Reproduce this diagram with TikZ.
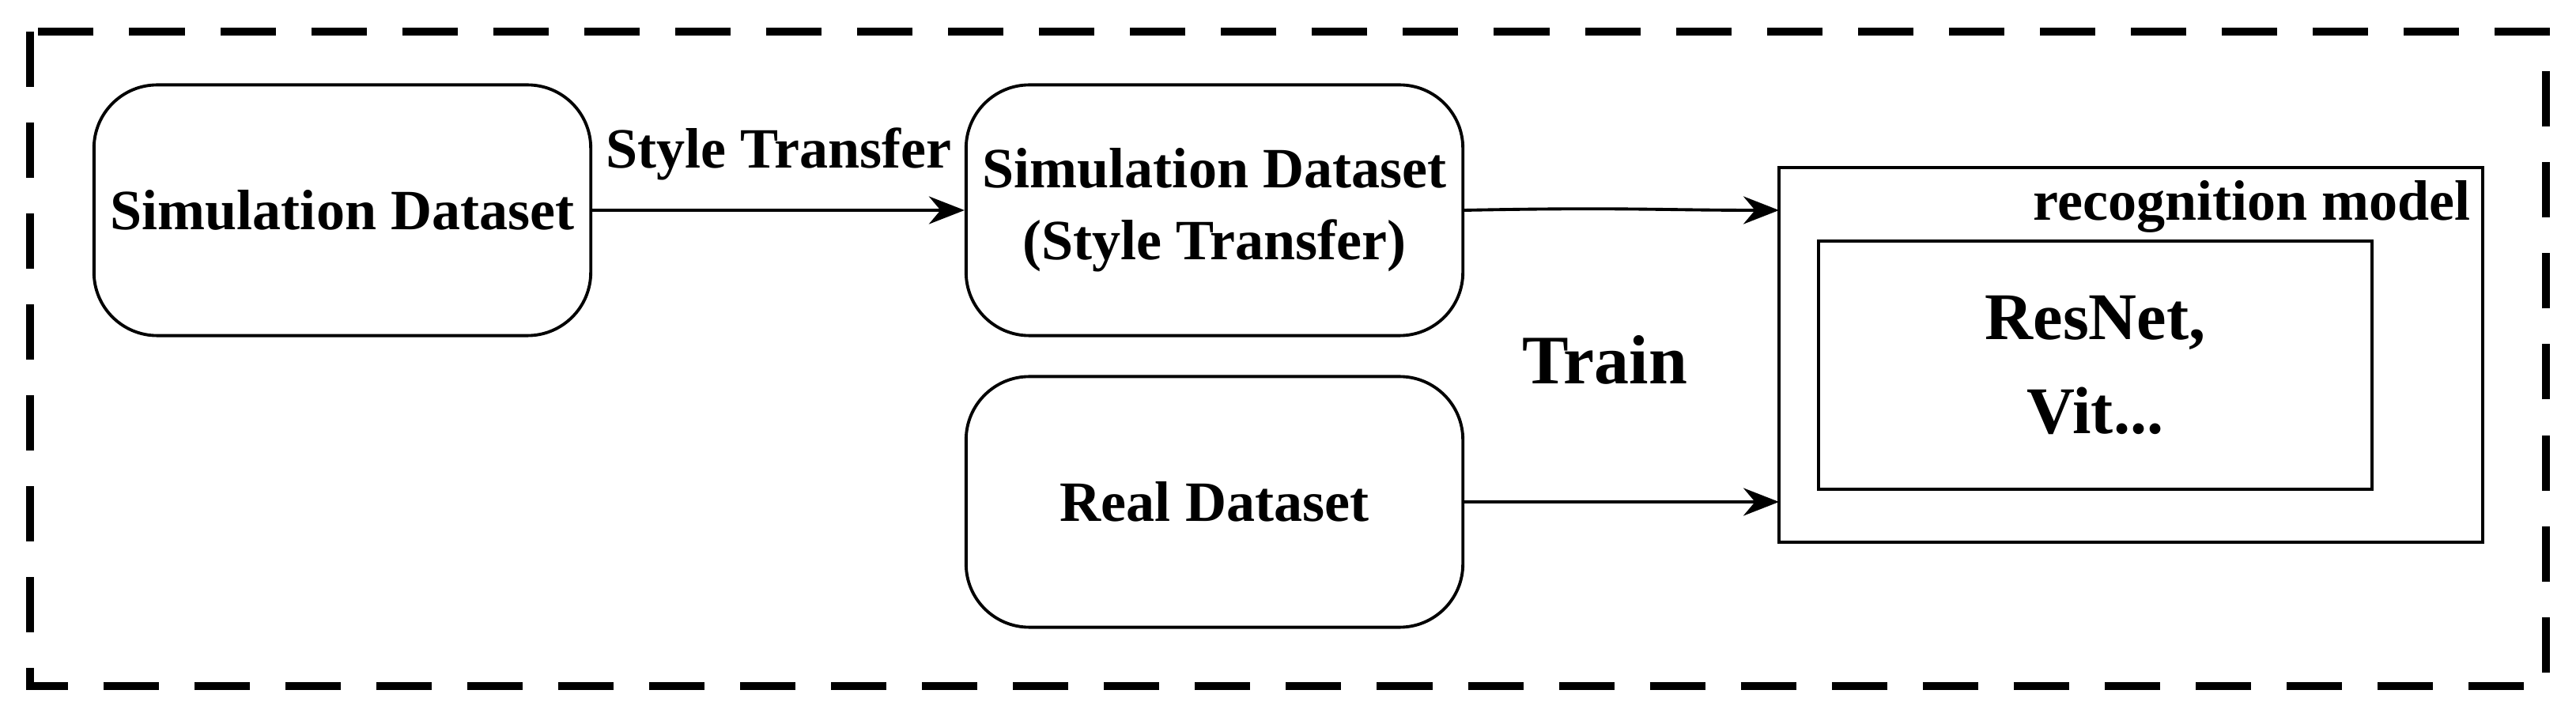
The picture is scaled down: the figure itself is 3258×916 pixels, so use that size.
\documentclass[tikz,border=0pt]{standalone}
\usepackage{fontspec}
\setmainfont{Liberation Serif}
\usetikzlibrary{arrows.meta}
\begin{document}
\begin{tikzpicture}[x=0.01cm,y=-0.01cm,
  rbox/.style={draw,line width=1.1pt,rounded corners=0.8cm,minimum width=6.28cm,minimum height=3.17cm,align=center,font=\fontsize{20.5}{26}\selectfont\bfseries},
  sbox/.style={draw,line width=1.1pt},
  arr/.style={-{Stealth[length=0.45cm,width=0.35cm]},line width=1.1pt},
  lbl/.style={font=\fontsize{20.5}{24}\selectfont\bfseries}]
\useasboundingbox (0,0) rectangle (3258,916);
\draw[line width=3pt,dash pattern=on 0.7cm off 0.45cm] (38,40) rectangle (3220,868);
\node[rbox] (sim) at (433,266) {Simulation Dataset};
\node[rbox] (simst) at (1536,266) {Simulation Dataset\\(Style Transfer)};
\node[rbox] (real) at (1536,635) {Real Dataset};
\draw[sbox] (2250,212) rectangle (3140,686);
\coordinate (rm1) at (2250,266);
\coordinate (rm2) at (2250,635);
\node[lbl,anchor=north east] (rmlbl) at (3137,216) {recognition model};
\node[sbox,minimum width=7cm,minimum height=3.13cm,align=center,font=\fontsize{24}{34}\selectfont\bfseries] (inner) at (2650,462) {ResNet,\\Vit...};
\node[lbl] (st) at (985,195) {Style Transfer};
\node[font=\fontsize{25}{30}\selectfont\bfseries] (train) at (2030,455) {Train};
\draw[arr] (sim) -- (simst);
\draw[arr] (simst.east) .. controls (2050,262) and (2100,266) .. (rm1);
\draw[arr] (real.east) -- (rm2);
\end{tikzpicture}
\end{document}
